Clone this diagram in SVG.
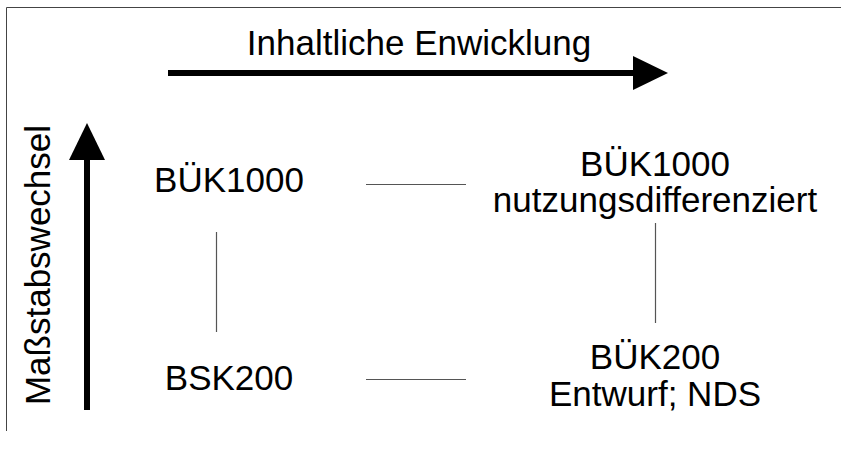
<svg xmlns="http://www.w3.org/2000/svg" width="841" height="450" viewBox="0 0 841 450">
<style>
.t{font-family:"Liberation Sans",Arial,sans-serif;font-size:35px;fill:#000;text-anchor:middle}
.c{stroke:#555;stroke-width:1.2;fill:none}
.b{stroke:#444;stroke-width:1;fill:none}
</style>
<rect width="841" height="450" fill="#fff"/>
<g id="frame">
<path class="b" d="M6.5,431 V7.5 H841"/>
</g>
<g id="axis-x">
<line x1="168" y1="73" x2="636" y2="73" stroke="#000" stroke-width="6"/>
<polygon points="633,56 668,73 633,90" fill="#000"/>
<text class="t" x="419" y="55">Inhaltliche Enwicklung</text>
</g>
<g id="axis-y">
<line x1="87" y1="410" x2="87" y2="157" stroke="#000" stroke-width="6"/>
<polygon points="69,160 87,123 105,160" fill="#000"/>
<text class="t" transform="translate(50,265) rotate(-90)">Maßstabswechsel</text>
</g>
<g id="n1"><text class="t" x="229" y="192">BÜK1000</text></g>
<g id="n2"><text class="t" x="655" y="176">BÜK1000</text><text class="t" x="655" y="212">nutzungsdifferenziert</text></g>
<g id="n3"><text class="t" x="229" y="390">BSK200</text></g>
<g id="n4"><text class="t" x="655" y="369">BÜK200</text><text class="t" x="655" y="406">Entwurf; NDS</text></g>
<g id="connectors">
<line class="c" x1="366" y1="184.5" x2="466" y2="184.5"/>
<line class="c" x1="366" y1="379.5" x2="466" y2="379.5"/>
<line class="c" x1="216.5" y1="232" x2="216.5" y2="332"/>
<line class="c" x1="655.5" y1="223" x2="655.5" y2="323"/>
</g>
</svg>
